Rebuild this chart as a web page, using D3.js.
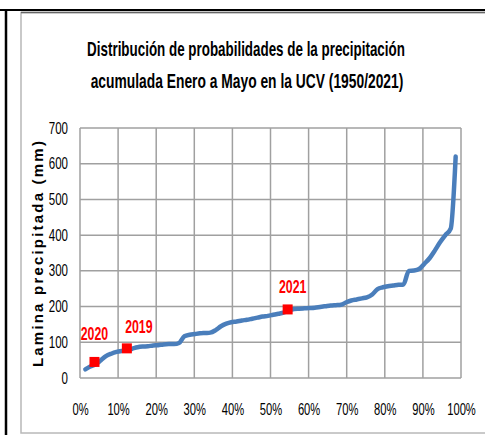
<!DOCTYPE html>
<html>
<head>
<meta charset="utf-8">
<script src="https://cdn.jsdelivr.net/npm/d3@7"></script>
<style>
  body { margin: 0; background: #fff; }
  svg { display: block; }
</style>
</head>
<body>
<svg width="485" height="435"></svg>
<script>
// probability of non-exceedance (%), one per year 1950-2021, sorted
var probs = [1.4, 2.7, 4.1, 5.5, 6.8, 8.2, 9.6, 11.0, 12.3, 13.7,
    15.1, 16.4, 17.8, 19.2, 20.5, 21.9, 23.3, 24.7, 26.0, 27.4,
    28.8, 30.1, 31.5, 32.9, 34.2, 35.6, 37.0, 38.4, 39.7, 41.1,
    42.5, 43.8, 45.2, 46.6, 47.9, 49.3, 50.7, 52.1, 53.4, 54.8,
    56.2, 57.5, 58.9, 60.3, 61.6, 63.0, 64.4, 65.8, 67.1, 68.5,
    69.9, 71.2, 72.6, 74.0, 75.3, 76.7, 78.1, 79.5, 80.8, 82.2,
    83.6, 84.9, 86.3, 87.7, 89.0, 90.4, 91.8, 93.2, 94.5, 95.9,
    97.3, 98.6];

// accumulated rainfall January-May (mm), sorted
var lamina = [24, 32, 38, 50, 61, 68, 73, 76, 78, 82,
    86, 88, 89, 91, 92, 94, 95, 95, 98, 117,
    121, 123, 125, 126, 127, 134, 145, 152, 156, 158,
    161, 163, 166, 169, 172, 174, 177, 180, 183, 189,
    193, 194, 195, 196, 197, 199, 201, 203, 204, 205,
    212, 217, 220, 223, 226, 234, 249, 254, 257, 259,
    261, 262, 300, 301, 305, 320, 336, 358, 380, 400,
    418, 620];

// highlighted years
var years = ["2020", "2019", "2021"];
var yearProbs = [3.8, 12.3, 54.5];
var yearValues = [45, 83, 192];

var xTicks = [0, 10, 20, 30, 40, 50, 60, 70, 80, 90, 100];
var yTicks = [0, 100, 200, 300, 400, 500, 600, 700];

window.addEventListener("DOMContentLoaded", function () {
    drawChart();
});

// squeeze a text horizontally (the original uses a narrow font)
function squeeze(sel, sx) {
    sel.each(function () {
        var t = d3.select(this);
        var xx = +t.attr("x") || 0;
        t.attr("x", xx / sx).attr("transform", "scale(" + sx + ",1)");
    });
}

function drawChart() {
    var svg = d3.select("svg");
    var font = "'Liberation Sans', Arial, sans-serif";

    // page borders (table cell) and chart frame
    svg.append("line").attr("x1", 0).attr("x2", 485).attr("y1", 10).attr("y2", 10)
        .attr("stroke", "#000").attr("stroke-width", 2);
    svg.append("line").attr("x1", 6).attr("x2", 6).attr("y1", 9).attr("y2", 435)
        .attr("stroke", "#000").attr("stroke-width", 2.5);
    svg.append("rect").attr("x", 21).attr("y", 12.5).attr("width", 470).attr("height", 420.5)
        .attr("fill", "none").attr("stroke", "#b8b8b8").attr("stroke-width", 1.5);
    svg.append("line").attr("x1", 21).attr("x2", 485).attr("y1", 12.5).attr("y2", 12.5)
        .attr("stroke", "#666").attr("stroke-width", 1.5);

    // title, two lines fitted to the original widths
    var titleLines = [
        {text: "Distribución de probabilidades de la precipitación", cx: 246, y: 56, w: 318},
        {text: "acumulada Enero a Mayo en la UCV (1950/2021)", cx: 247, y: 88, w: 313}
    ];
    titleLines.forEach(function (l) {
        var g = svg.append("g").attr("transform", "translate(" + l.cx + "," + l.y + ")");
        var t = g.append("text")
            .attr("text-anchor", "middle")
            .attr("font-family", font)
            .attr("font-weight", "bold")
            .attr("font-size", 19.5)
            .attr("fill", "#000")
            .text(l.text);
        var s = l.w / t.node().getComputedTextLength();
        t.attr("transform", "scale(" + s + ",1)");
    });

    var left = 80, right = 461, top = 128, bottom = 378;

    var x = d3.scaleLinear().domain([0, 100]).range([left, right]);
    var y = d3.scaleLinear().domain([0, 700]).range([bottom, top]);

    // grid
    var grid = svg.append("g").attr("stroke", "#a0a0a0").attr("stroke-width", 1.5);
    grid.selectAll(".vg").data(xTicks).enter().append("line")
        .attr("x1", function (d) { return x(d); })
        .attr("x2", function (d) { return x(d); })
        .attr("y1", top).attr("y2", bottom);
    grid.selectAll(".hg").data(yTicks).enter().append("line")
        .attr("x1", left).attr("x2", right)
        .attr("y1", function (d) { return y(d); })
        .attr("y2", function (d) { return y(d); });

    // axes (labels only)
    var yAxis = svg.append("g")
        .attr("transform", "translate(" + left + ",0)")
        .call(d3.axisLeft(y).tickValues(yTicks).tickSize(0).tickPadding(12));
    yAxis.select(".domain").remove();
    yAxis.selectAll("text")
        .attr("font-family", font)
        .attr("font-size", 16)
        .attr("fill", "#000")
        .call(squeeze, 0.72);

    var xAxis = svg.append("g")
        .attr("transform", "translate(0," + bottom + ")")
        .call(d3.axisBottom(x).tickValues(xTicks).tickSize(0).tickPadding(26)
            .tickFormat(function (d) { return d + "%"; }));
    xAxis.select(".domain").remove();
    xAxis.selectAll("text")
        .attr("font-family", font)
        .attr("font-size", 16)
        .attr("fill", "#000")
        .call(squeeze, 0.7);

    // y axis title
    svg.append("text")
        .attr("transform", "translate(43,253) rotate(-90)")
        .attr("text-anchor", "middle")
        .attr("font-family", font)
        .attr("font-weight", "bold")
        .attr("font-size", 15)
        .attr("letter-spacing", 2.2)
        .text("Lamina precipitada (mm)");

    // distribution line
    var points = probs.map(function (p, i) { return [p, lamina[i]]; });
    var line = d3.line()
        .x(function (d) { return x(d[0]); })
        .y(function (d) { return y(d[1]); })
        .curve(d3.curveMonotoneX);
    svg.append("path")
        .datum(points)
        .attr("d", line)
        .attr("fill", "none")
        .attr("stroke", "#4a7ebb")
        .attr("stroke-width", 4.5)
        .attr("stroke-linejoin", "round")
        .attr("stroke-linecap", "round");

    // highlighted years
    var labelOffsets = [[0, -22], [12, -15], [5, -16]];
    var marks = svg.selectAll(".yr").data(years).enter().append("g");
    marks.append("rect")
        .attr("x", function (d, i) { return x(yearProbs[i]) - 5; })
        .attr("y", function (d, i) { return y(yearValues[i]) - 5; })
        .attr("width", 10).attr("height", 10)
        .attr("fill", "#ff0000");
    marks.append("g")
        .attr("transform", function (d, i) {
            return "translate(" + (x(yearProbs[i]) + labelOffsets[i][0]) + "," +
                (y(yearValues[i]) + labelOffsets[i][1]) + ")";
        })
        .append("text")
        .attr("text-anchor", "middle")
        .attr("font-family", font)
        .attr("font-weight", "bold")
        .attr("font-size", 19)
        .attr("fill", "#ff0000")
        .attr("transform", "scale(0.65,1)")
        .text(function (d) { return d; });
}
</script>
</body>
</html>
